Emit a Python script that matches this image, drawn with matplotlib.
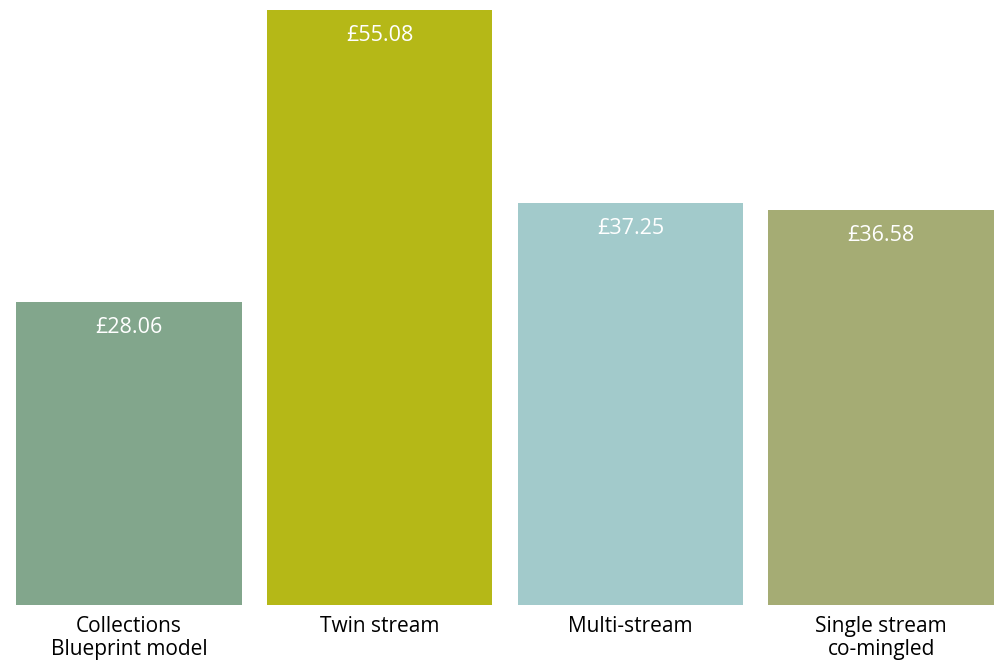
import matplotlib
matplotlib.use("Agg")
import matplotlib.pyplot as plt

plt.rcParams['font.family'] = ['Open Sans', 'DejaVu Sans']

categories = ["Collections\nBlueprint model", "Twin stream", "Multi-stream", "Single stream\nco-mingled"]
values = [28.06, 55.08, 37.25, 36.58]
value_labels = ["£28.06", "£55.08", "£37.25", "£36.58"]
colors = ["#82a68c", "#b5b817", "#a2cacb", "#a5ac74"]

fig = plt.figure(figsize=(9.97, 6.6), dpi=100)
ax = fig.add_axes([16 / 997, 55 / 660, 978 / 997, 595 / 660])

x = range(len(categories))
ax.bar(x, values, width=0.9, color=colors)
ax.set_xlim(-0.45, 3.45)
ax.set_ylim(0, 55.08)

for i, (v, lab) in enumerate(zip(values, value_labels)):
    ax.annotate(lab, (i, v), xytext=(0, -11), textcoords="offset points",
                ha="center", va="top", color="white", fontsize=15.5)

ax.set_xticks(list(x))
ax.set_xticklabels(categories, fontsize=15, linespacing=1.1, va="top")
ax.tick_params(axis="x", length=0, pad=8)
ax.set_yticks([])
for s in ax.spines.values():
    s.set_visible(False)

fig.savefig("out.png", dpi=100)
